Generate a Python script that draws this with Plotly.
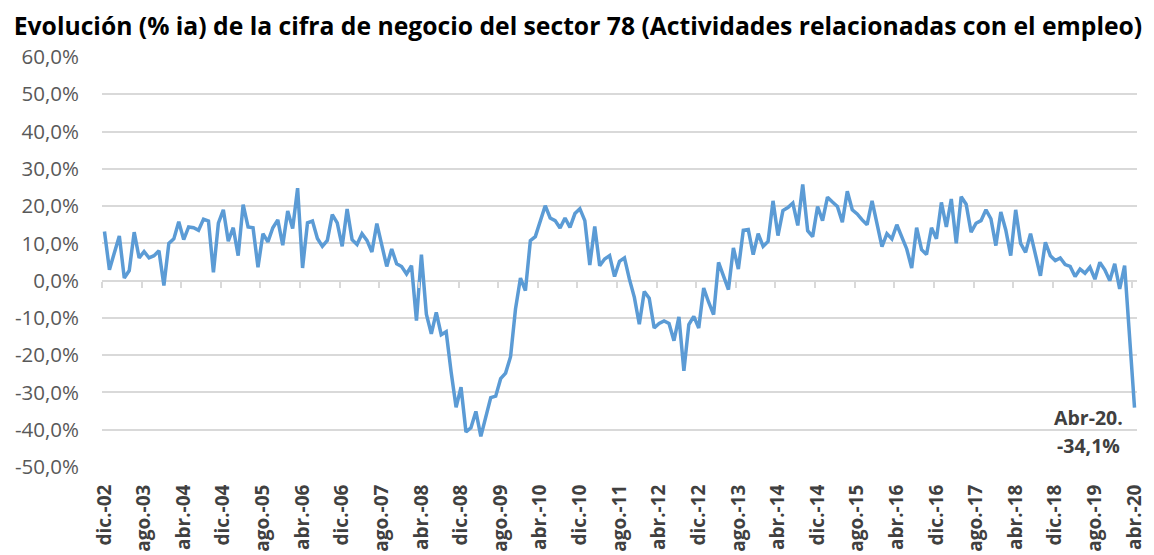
import plotly.graph_objects as go

values = [
    13.2, 2.9, 7.5, 12.0, 0.7, 2.7, 13.0, 6.1, 7.8, 6.1, 6.7, 8.0, -1.3, 10.0, 11.2, 15.8,
    11.0, 14.4, 14.2, 13.5, 16.5, 16.0, 2.2, 15.4, 19.0, 10.6, 14.2, 6.7, 20.4, 14.4, 14.2, 3.6,
    12.6, 10.4, 14.2, 16.3, 9.5, 18.7, 14.0, 24.8, 3.4, 15.5, 16.0, 11.3, 9.2, 10.8, 17.7, 15.5,
    9.2, 19.2, 11.0, 9.7, 12.6, 10.8, 7.7, 15.3, 9.5, 3.8, 8.5, 4.5, 3.8, 1.8, 4.0, -10.7,
    7.0, -9.0, -14.3, -8.5, -14.5, -13.7, -24.5, -34.0, -28.6, -40.6, -39.5, -35.1, -41.8, -36.6, -31.4, -31.0,
    -26.3, -24.8, -20.4, -7.6, 0.7, -2.7, 10.7, 11.8, 15.6, 20.1, 16.8, 16.1, 14.1, 16.8, 14.3, 18.0,
    19.3, 16.1, 4.2, 14.5, 4.0, 5.8, 6.7, 1.1, 5.2, 6.1, 0.4, -4.5, -11.7, -2.9, -4.7, -12.7,
    -11.5, -10.8, -11.5, -16.1, -9.7, -24.2, -11.8, -9.6, -12.7, -2.0, -5.8, -9.1, 4.9, 0.9, -2.4, 8.8,
    3.1, 13.5, 13.7, 7.0, 12.6, 9.2, 10.5, 21.4, 12.1, 18.8, 19.6, 20.8, 14.8, 25.8, 13.4, 11.8,
    19.9, 16.1, 22.4, 21.1, 19.9, 15.7, 24.0, 19.0, 17.9, 16.3, 15.0, 21.4, 15.2, 9.1, 12.6, 11.2,
    15.0, 11.7, 8.5, 3.4, 14.2, 8.3, 7.0, 14.2, 11.2, 21.0, 14.4, 21.9, 10.0, 22.5, 20.5, 13.0,
    15.4, 16.1, 19.0, 16.6, 9.4, 18.4, 13.6, 6.7, 19.0, 10.0, 7.6, 12.6, 7.0, 1.3, 10.3, 6.7,
    5.4, 6.1, 4.3, 3.8, 1.1, 3.1, 2.0, 3.6, 0.4, 4.9, 2.9, 0.0, 4.5, -2.2, 4.0, -15.5,
    -34.1,
]

tick_labels = [
    "dic.-02", "ago.-03", "abr.-04", "dic.-04", "ago.-05", "abr.-06", "dic.-06", "ago.-07",
    "abr.-08", "dic.-08", "ago.-09", "abr.-10", "dic.-10", "ago.-11", "abr.-12", "dic.-12",
    "ago.-13", "abr.-14", "dic.-14", "ago.-15", "abr.-16", "dic.-16", "ago.-17", "abr.-18",
    "dic.-18", "ago.-19", "abr.-20",
]
tick_step = 8

y_ticks = [-50, -40, -30, -20, -10, 0, 10, 20, 30, 40, 50, 60]
y_tick_labels = ["-50,0%", "-40,0%", "-30,0%", "-20,0%", "-10,0%", "0,0%",
                 "10,0%", "20,0%", "30,0%", "40,0%", "50,0%", "60,0%"]

title_text = "Evolución (% ia) de la cifra de negocio del sector 78 (Actividades relacionadas con el empleo)"
note_line1 = "Abr-20."
note_line2 = "-34,1%"

n = len(values)
xs = list(range(n))
tick_pos = [i * tick_step for i in range(len(tick_labels))]
tick_marks = [p - 0.5 for p in tick_pos]

# the page body has an 8px margin, so the figure is sized to fit the window exactly
W, H = 1146, 547
FONT = "Open Sans"
fig = go.Figure()
fig.add_trace(go.Scatter(
    x=xs, y=values, mode="lines",
    line=dict(color="#5B9BD5", width=3.5),
    hoverinfo="skip", showlegend=False,
))
# helper trace so the overlaid tick-mark axis is drawn
fig.add_trace(go.Scatter(x=[0], y=[None], xaxis="x2", mode="lines",
                         showlegend=False, hoverinfo="skip"))

xr = [-0.5, n - 0.5]
fig.update_layout(
    width=W, height=H,
    margin=dict(l=94, r=17, t=49, b=88),
    paper_bgcolor="white", plot_bgcolor="white",
    title=dict(text=title_text, x=(578 - 8) / W, xref="container", xanchor="center",
               y=1 - (26 - 8) / H, yref="container", yanchor="middle",
               font=dict(family=FONT, size=24.7, color="#000000", weight="bold")),
    xaxis=dict(range=xr, tickmode="array", tickvals=tick_pos, ticktext=tick_labels,
               tickangle=-90, ticks="outside", ticklen=9, tickcolor="rgba(0,0,0,0)",
               showgrid=False, zeroline=False, showline=False,
               tickfont=dict(family=FONT, size=19, color="#404040", weight="bold"),
               automargin=False),
    xaxis2=dict(range=xr, overlaying="x", anchor="free", position=50 / 110,
                tickmode="array", tickvals=tick_marks, showticklabels=False,
                ticks="outside", ticklen=6, tickcolor="#D9D9D9", tickwidth=1.5,
                showgrid=False, zeroline=False, showline=False),
    yaxis=dict(range=[-50, 60], tickmode="array", tickvals=y_ticks, ticktext=y_tick_labels,
               showgrid=True, gridcolor="#D9D9D9", gridwidth=1.5, zeroline=False,
               showline=False, ticks="outside", ticklen=18, tickcolor="rgba(0,0,0,0)",
               tickfont=dict(family=FONT, size=20.5, color="#595959"),
               automargin=False),
)

fig.add_annotation(x=198.8, y=-36.6, text=note_line1, showarrow=False,
                   xanchor="center", yanchor="middle",
                   font=dict(family=FONT, size=19.5, color="#404040", weight="bold"))
fig.add_annotation(x=198.8, y=-44.1, text=note_line2, showarrow=False,
                   xanchor="center", yanchor="middle",
                   font=dict(family=FONT, size=19.5, color="#404040", weight="bold"))

fig.write_html("out.html")
